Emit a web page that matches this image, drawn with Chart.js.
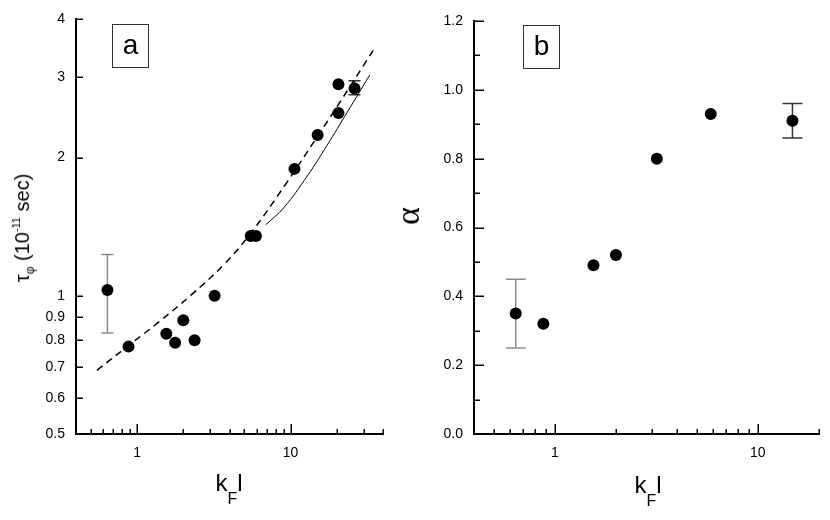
<!DOCTYPE html>
<html>
<head>
<meta charset="utf-8">
<script src="https://cdn.jsdelivr.net/npm/chart.js@4.4.1/dist/chart.umd.min.js"></script>
<style>
  body { margin: 0; background: #fff; }
  #wrap { position: relative; width: 830px; height: 520px; font-family: "Liberation Sans", Arial, sans-serif; color: #000; }
  canvas { position: absolute; top: 0; }
  .lbl { position: absolute; white-space: nowrap; line-height: 1; }
  .rot { transform: translate(-50%, -50%) rotate(-90deg); }
  .box { position: absolute; border: 1.5px solid #333; width: 35px; height: 42px; font-size: 28px; text-align: center; line-height: 40px; }
</style>
</head>
<body>
<div id="wrap">
  <canvas id="chartA" width="415" height="520" style="left:0"></canvas>
  <canvas id="chartB" width="415" height="520" style="left:415px"></canvas>

  <div class="box" style="left:112px; top:24px">a</div>
  <div class="box" style="left:523px; top:25px">b</div>

  <div class="lbl rot" style="left:22px; top:228px; font-size:20px">τ<span style="font-size:12px; position:relative; top:5px">φ</span> (10<span style="font-size:11px; position:relative; top:-9px">-11</span> sec)</div>
  <div class="lbl" style="left:229px; top:471px; font-size:24px; transform:translateX(-50%)">k<span style="font-size:16px; position:relative; top:13px">F</span>l</div>

  <div class="lbl rot" style="left:408px; top:216px; font-size:34px; font-family:'Liberation Serif', serif">α</div>
  <div class="lbl" style="left:648px; top:473px; font-size:24px; transform:translateX(-50%)">k<span style="font-size:16px; position:relative; top:13px">F</span>l</div>
</div>
<script>
// panel a: tau_phi vs kF*l (log-log)
const tauX = [0.641, 0.879, 1.55, 1.77, 2.0, 2.37, 3.2, 5.5, 5.95, 10.6, 15.0, 20.5, 20.5, 26.1];
const tauY = [1.03, 0.775, 0.827, 0.79, 0.885, 0.80, 1.0, 1.35, 1.35, 1.89, 2.24, 2.50, 2.89, 2.83];
const tauErrX = [0.641, 26.1];
const tauErrLo = [0.83, 2.74];
const tauErrHi = [1.23, 2.94];
const tauErrColor = ["#8c8c8c", "#333"];

const dashX = [0.547, 0.879, 1.357, 2.234, 3.681, 5.495, 9.28, 14.93, 20.14, 35.73];
const dashY = [0.688, 0.779, 0.872, 1.002, 1.170, 1.368, 1.750, 2.221, 2.587, 3.485];
const solidX = [6.88, 9.04, 12.85, 17.3, 23.4, 32.8];
const solidY = [1.427, 1.556, 1.824, 2.128, 2.512, 3.026];

const tauXTicks = [0.5, 0.6, 0.7, 0.8, 0.9, 1, 2, 3, 4, 5, 6, 7, 8, 9, 10, 20, 30, 40];
const tauYTicks = [0.5, 0.6, 0.7, 0.8, 0.9, 1, 2, 3, 4];

// panel b: alpha vs kF*l
const alphaX = [0.642, 0.878, 1.55, 2.0, 3.18, 5.86, 14.8];
const alphaY = [0.35, 0.32, 0.49, 0.52, 0.80, 0.93, 0.91];
const alphaErrX = [0.642, 14.8];
const alphaErrLo = [0.25, 0.86];
const alphaErrHi = [0.45, 0.96];
const alphaErrColor = ["#8c8c8c", "#333"];

const alphaXTicks = [0.5, 0.6, 0.7, 0.8, 0.9, 1, 2, 3, 4, 5, 6, 7, 8, 9, 10, 20];
const alphaYTicks = [0, 0.1, 0.2, 0.3, 0.4, 0.5, 0.6, 0.7, 0.8, 0.9, 1.0, 1.1, 1.2];
const alphaYLabels = [0, 0.2, 0.4, 0.6, 0.8, 1.0, 1.2];

const xLabels = [1, 10];
const font = { family: "'Liberation Sans', Arial, sans-serif", size: 14 };

const pts = (xs, ys) => xs.map((x, i) => ({ x: x, y: ys[i] }));

function errorBars(xs, lo, hi, colors, cap) {
  return {
    id: "errorBars",
    beforeDatasetsDraw(chart) {
      const { ctx, scales } = chart;
      ctx.save();
      ctx.lineWidth = 1.5;
      xs.forEach((v, i) => {
        const px = scales.x.getPixelForValue(v);
        const top = scales.y.getPixelForValue(hi[i]);
        const bot = scales.y.getPixelForValue(lo[i]);
        ctx.strokeStyle = colors[i];
        ctx.beginPath();
        ctx.moveTo(px, top); ctx.lineTo(px, bot);
        ctx.moveTo(px - cap, top); ctx.lineTo(px + cap, top);
        ctx.moveTo(px - cap, bot); ctx.lineTo(px + cap, bot);
        ctx.stroke();
      });
      ctx.restore();
    }
  };
}

// tick marks pointing into the plot, long for major ticks
function inwardTicks(lengths) {
  return {
    id: "inwardTicks",
    afterDraw(chart) {
      const ctx = chart.ctx;
      const area = chart.chartArea;
      ctx.save();
      ctx.strokeStyle = "#000";
      ctx.lineWidth = 1.5;
      Object.values(chart.scales).forEach(scale => {
        const len = lengths[scale.id];
        scale.ticks.forEach(t => {
          const p = Math.round(scale.getPixelForValue(t.value)) + 0.25;
          const l = len(t.value);
          ctx.beginPath();
          if (scale.isHorizontal()) {
            ctx.moveTo(p, area.bottom);
            ctx.lineTo(p, area.bottom - l);
          } else {
            ctx.moveTo(area.left, p);
            ctx.lineTo(area.left + l, p);
          }
          ctx.stroke();
        });
      });
      ctx.restore();
    }
  };
}

function axis(type, min, max, ticks, labelFn, fit) {
  return {
    type: type,
    min: min,
    max: max,
    bounds: "data",
    grid: { display: false, drawTicks: false },
    border: { display: true, color: "#000", width: 2 },
    ticks: {
      autoSkip: false,
      maxRotation: 0,
      padding: 11,
      color: "#000",
      font: font,
      callback: labelFn
    },
    afterBuildTicks: s => { s.ticks = ticks.map(v => ({ value: v })); },
    afterFit: fit
  };
}

const baseOptions = {
  responsive: false,
  animation: false,
  devicePixelRatio: 1,
  plugins: { legend: { display: false }, tooltip: { enabled: false } }
};

new Chart(document.getElementById("chartA"), {
  type: "scatter",
  data: {
    datasets: [
      {
        data: pts(dashX, dashY),
        showLine: true,
        borderColor: "#000",
        borderWidth: 1.5,
        borderDash: [7, 5],
        pointRadius: 0,
        tension: 0.4
      },
      {
        data: pts(solidX, solidY),
        showLine: true,
        borderColor: "#000",
        borderWidth: 1,
        pointRadius: 0,
        tension: 0.4
      },
      {
        data: pts(tauX, tauY),
        pointRadius: 6,
        backgroundColor: "#000",
        borderWidth: 0
      }
    ]
  },
  options: {
    ...baseOptions,
    layout: { padding: { top: 15, right: 32, bottom: 0, left: 0 } },
    scales: {
      x: axis("logarithmic", 0.4, 40, tauXTicks,
        v => (xLabels.includes(v) ? String(v) : ""),
        s => { s.height = 86; }),
      y: axis("logarithmic", 0.5, 4, tauYTicks,
        v => String(v),
        s => { s.width = 76; })
    }
  },
  plugins: [
    errorBars(tauErrX, tauErrLo, tauErrHi, tauErrColor, 6),
    inwardTicks({
      x: v => (xLabels.includes(v) ? 10 : 5),
      y: () => 7
    })
  ]
});

new Chart(document.getElementById("chartB"), {
  type: "scatter",
  data: {
    datasets: [
      {
        data: pts(alphaX, alphaY),
        pointRadius: 6,
        backgroundColor: "#000",
        borderWidth: 0
      }
    ]
  },
  options: {
    ...baseOptions,
    layout: { padding: { top: 21, right: 7, bottom: 0, left: 0 } },
    scales: {
      x: axis("logarithmic", 0.4, 20, alphaXTicks,
        v => (xLabels.includes(v) ? String(v) : ""),
        s => { s.height = 86; }),
      y: axis("linear", 0, 1.2, alphaYTicks,
        v => (alphaYLabels.some(l => Math.abs(l - v) < 1e-9) ? v.toFixed(1) : ""),
        s => { s.width = 59; })
    }
  },
  plugins: [
    errorBars(alphaErrX, alphaErrLo, alphaErrHi, alphaErrColor, 10),
    inwardTicks({
      x: v => (xLabels.includes(v) ? 10 : 5),
      y: v => (alphaYLabels.some(l => Math.abs(l - v) < 1e-9) ? 10 : 6)
    })
  ]
});
</script>
</body>
</html>
